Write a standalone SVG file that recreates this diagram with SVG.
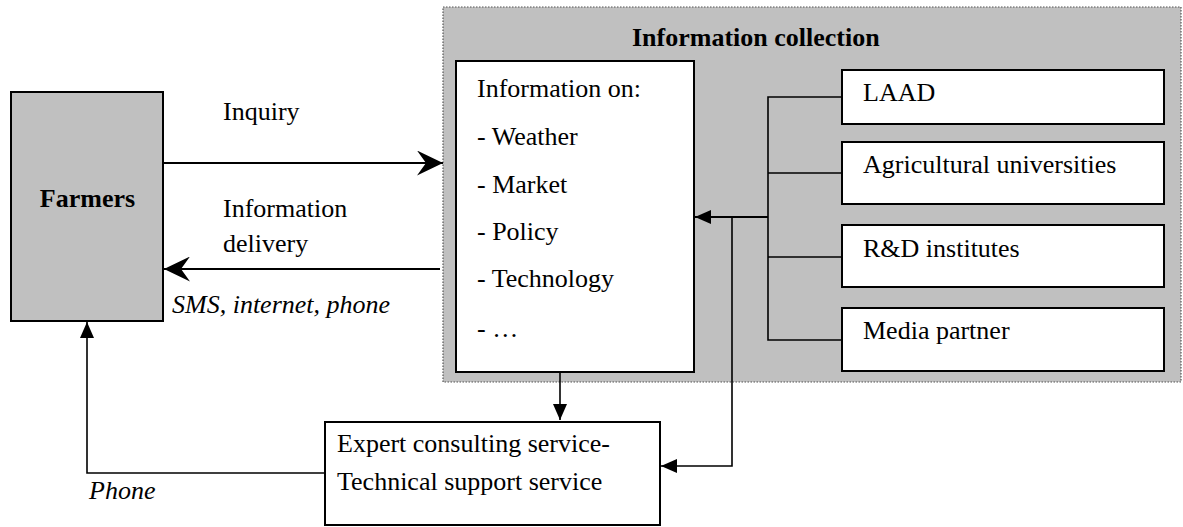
<svg xmlns="http://www.w3.org/2000/svg" width="1183" height="527" viewBox="0 0 1183 527">
<style>
text{font-family:"Liberation Serif","Times New Roman",serif;font-size:26px;fill:#000}
.b{font-weight:bold}
.i{font-style:italic}
.box{fill:#fff;stroke:#000;stroke-width:2}
.gray{fill:#c0c0c0;stroke:#000;stroke-width:2}
.ln{fill:none;stroke:#000;stroke-width:2}
.thin{fill:none;stroke:#000;stroke-width:1.6}
</style>
<defs>
<marker id="barb" viewBox="0 0 26 25" refX="26" refY="12.5" markerWidth="26" markerHeight="25" markerUnits="userSpaceOnUse" orient="auto">
<path d="M0,0 L26,12.5 L0,25 L9,12.5 Z" fill="#000"/>
</marker>
<marker id="tri" viewBox="0 0 16 14" refX="16" refY="7" markerWidth="16" markerHeight="14" markerUnits="userSpaceOnUse" orient="auto">
<path d="M0,0 L16,7 L0,14 Z" fill="#000"/>
</marker>
</defs>
<g id="collection">
<rect x="443" y="7" width="738" height="375" fill="#c0c0c0" stroke="#555" stroke-width="1.2" stroke-dasharray="1.5,1.5"/>
<text class="b" x="632" y="46">Information collection</text>
</g>
<g id="farmers">
<rect class="gray" x="11" y="92" width="152" height="229"/>
<text class="b" x="87.5" y="207" text-anchor="middle">Farmers</text>
</g>
<g id="info">
<rect class="box" x="456" y="61" width="238" height="311"/>
<text x="477" y="97">Information on:</text>
<text x="477" y="145">- Weather</text>
<text x="477" y="193">- Market</text>
<text x="477" y="240">- Policy</text>
<text x="477" y="287">- Technology</text>
<text x="477" y="337">- …</text>
</g>
<g id="laad">
<rect class="box" x="842" y="70" width="322" height="54"/>
<text x="863" y="101">LAAD</text>
</g>
<g id="agri">
<rect class="box" x="842" y="142" width="322" height="62"/>
<text x="863" y="173">Agricultural universities</text>
</g>
<g id="rd">
<rect class="box" x="842" y="225" width="322" height="62"/>
<text x="863" y="257">R&amp;D institutes</text>
</g>
<g id="media">
<rect class="box" x="842" y="308" width="322" height="63"/>
<text x="863" y="339">Media partner</text>
</g>
<g id="expert">
<rect class="box" x="325" y="422" width="335" height="103"/>
<text x="337" y="452">Expert consulting service-</text>
<text x="337" y="490">Technical support service</text>
</g>
<g id="connectors">
<line class="ln" x1="163" y1="163" x2="443" y2="163" marker-end="url(#barb)"/>
<line class="ln" x1="440" y1="269" x2="164" y2="269" marker-end="url(#barb)"/>
<polyline class="thin" points="842,97 768,97 768,340 842,340"/>
<line class="thin" x1="768" y1="173" x2="842" y2="173"/>
<line class="thin" x1="768" y1="257" x2="842" y2="257"/>
<line class="ln" x1="768" y1="217" x2="695" y2="217" marker-end="url(#tri)"/>
<polyline class="thin" points="732,217 732,466 661,466" marker-end="url(#tri)"/>
<line class="thin" x1="560" y1="372" x2="560" y2="420" marker-end="url(#tri)"/>
<polyline class="thin" points="325,473 87,473 87,322" marker-end="url(#tri)"/>
<text x="223" y="120">Inquiry</text>
<text x="223" y="217">Information</text>
<text x="223" y="252">delivery</text>
<text class="i" x="172" y="313">SMS, internet, phone</text>
<text class="i" x="89" y="499">Phone</text>
</g>
</svg>
